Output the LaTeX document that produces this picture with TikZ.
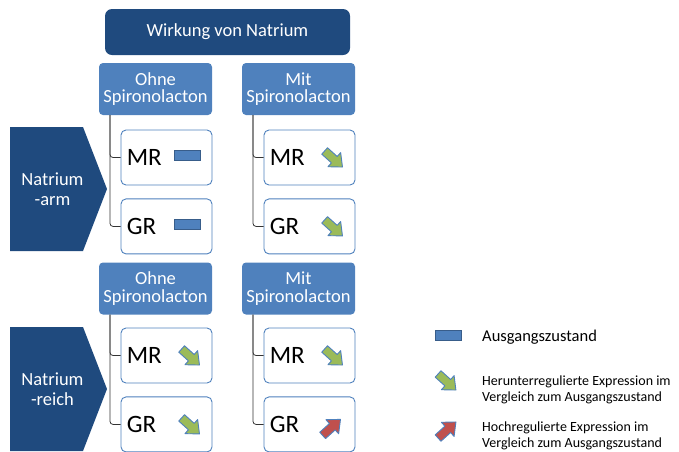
\documentclass[tikz,border=0pt]{standalone}
\usepackage{fontspec}
\setmainfont{Carlito}
\usetikzlibrary{positioning}
\definecolor{dunkelblau}{HTML}{1F4A7E}
\definecolor{mittelblau}{HTML}{4F81BD}
\definecolor{randblau}{HTML}{385D8A}
\definecolor{gruen}{HTML}{9BBB59}
\definecolor{rot}{HTML}{C0504D}

\begin{document}
\begin{tikzpicture}[x=1pt,y=-1pt,every node/.style={inner sep=0pt},
  titel/.style={fill=dunkelblau,rounded corners=7pt,minimum width=245pt,minimum height=46pt,text=white,font=\fontsize{18.5}{18}\selectfont},
  kopf/.style={fill=mittelblau,rounded corners=4pt,minimum width=113pt,minimum height=52pt,text=white,align=center,font=\fontsize{18.5}{17.5}\selectfont},
  kasten/.style={draw=mittelblau,fill=white,rounded corners=5pt,minimum width=91pt,minimum height=55pt,line width=0.9pt},
  gen/.style={anchor=west,font=\fontsize{25}{25}\selectfont},
  winkeltext/.style={text=white,align=center,font=\fontsize{18.5}{20}\selectfont},
  linie/.style={draw=black!80,line width=0.8pt,rounded corners=3pt},
  balken/.style={fill=mittelblau,draw=randblau,line width=0.8pt,minimum width=26pt,minimum height=10pt},
  legende/.style={anchor=west,align=left,font=\fontsize{14}{16}\selectfont},
  blockpfeil/.pic={\draw[draw=mittelblau,line width=0.9pt,line join=round,fill=#1]
      (-12,-4.3) -- (1,-4.3) -- (1,-9.5) -- (12,0) -- (1,9.5) -- (1,4.3) -- (-12,4.3) -- cycle;}]
  \useasboundingbox (0,0) rectangle (679,451);

  % Kopf
  \node[titel] (t) at (227.5,32) {Wirkung von Natrium};

  % Natrium-arm
  \node[kopf] (h1) at (155.5,89) {Ohne\\Spironolacton};
  \node[kopf] (h2) at (298.5,89) {Mit\\Spironolacton};
  \fill[dunkelblau] (10,127) -- ++(73,0) -- ++(24,62) -- ++(-24,62) -- ++(-73,0) -- cycle;
  \node[winkeltext] (w1) at (52.5,189) {Natrium\\-arm};

  \node[kasten] (mr1) at (166.5,157.5) {};
  \node[kasten] (gr1) [below=13pt of mr1] {};
  \node[kasten] (mr2) at (309.5,157.5) {};
  \node[kasten] (gr2) [below=13pt of mr2] {};

  % Natrium-reich
  \node[kopf] (h3) at (155.5,288.5) {Ohne\\Spironolacton};
  \node[kopf] (h4) at (298.5,288.5) {Mit\\Spironolacton};
  \fill[dunkelblau] (10,327) -- ++(73,0) -- ++(24,62) -- ++(-24,62) -- ++(-73,0) -- cycle;
  \node[winkeltext] (w2) at (52.5,389) {Natrium\\-reich};

  \node[kasten] (mr3) at (166.5,355.5) {};
  \node[kasten] (gr3) [below=13pt of mr3] {};
  \node[kasten] (mr4) at (309.5,355.5) {};
  \node[kasten] (gr4) [below=13pt of mr4] {};

  \foreach \k in {1,2,3,4} {
    \node[gen] (mr\k t) at ([xshift=6pt]mr\k.west) {MR};
    \node[gen] (gr\k t) at ([xshift=6pt]gr\k.west) {GR};
  }

  % Linien
  \foreach \h/\k in {h1/1,h2/2,h3/3,h4/4} {
    \draw[linie] ([xshift=-45.5pt]\h.south) |- (mr\k.west);
    \draw[linie] ([xshift=-45.5pt]\h.south) |- (gr\k.west);
  }

  % Symbole
  \node[balken] (b1) at ([xshift=67pt,yshift=2pt]mr1.west) {};
  \node[balken] (b2) at ([xshift=67pt,yshift=2pt]gr1.west) {};
  \pic[rotate=-42] at ([xshift=70pt,yshift=-1.5pt]mr2.west) {blockpfeil=gruen};
  \pic[rotate=-42] at ([xshift=70pt,yshift=-1.5pt]gr2.west) {blockpfeil=gruen};
  \pic[rotate=-42] at ([xshift=70pt,yshift=-1.5pt]mr3.west) {blockpfeil=gruen};
  \pic[rotate=-42] at ([xshift=70pt,yshift=-1.5pt]gr3.west) {blockpfeil=gruen};
  \pic[rotate=-42] at ([xshift=70pt,yshift=-1.5pt]mr4.west) {blockpfeil=gruen};
  \pic[rotate=42] at ([xshift=68pt,yshift=-3pt]gr4.west) {blockpfeil=rot};

  % Legende
  \node[balken] (lb) at (448,335.5) {};
  \node[legende,font=\fontsize{16.5}{18}\selectfont] (l1) at (482,337) {Ausgangszustand};
  \pic[rotate=-42] at (447,382) {blockpfeil=gruen};
  \node[legende] (l2) at (482,390) {Herunterregulierte Expression im\\Vergleich zum Ausgangszustand};
  \pic[rotate=42] at (447,430) {blockpfeil=rot};
  \node[legende] (l3) at (482,436) {Hochregulierte Expression im\\Vergleich zum Ausgangszustand};
\end{tikzpicture}
\end{document}
